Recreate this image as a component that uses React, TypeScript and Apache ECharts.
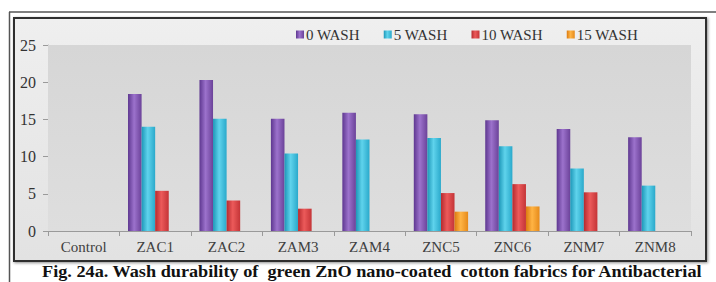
import React, { useEffect, useRef } from "react";
import * as echarts from "echarts";

const categories = ["Control", "ZAC1", "ZAC2", "ZAM3", "ZAM4", "ZNC5", "ZNC6", "ZNM7", "ZNM8"];
const seriesNames = ["0 WASH", "5 WASH", "10 WASH", "15 WASH"];
const wash0 = [0, 18.4, 20.3, 15.1, 15.9, 15.7, 14.9, 13.7, 12.6];
const wash5 = [0, 14.0, 15.1, 10.4, 12.3, 12.5, 11.4, 8.4, 6.1];
const wash10 = [0, 5.4, 4.1, 3.0, 0, 5.1, 6.3, 5.2, 0];
const wash15 = [0, 0, 0, 0, 0, 2.6, 3.3, 0, 0];
const caption = "Fig. 24a. Wash durability of  green ZnO nano-coated  cotton fabrics for Antibacterial";

const palettes = [
  ["#5e3790", "#9c72cc", "#6b4299"],
  ["#1d97b8", "#5fd3ec", "#2aa9cb"],
  ["#b52a2e", "#ec5a5a", "#c43437"],
  ["#db7a10", "#ffb444", "#e68a1a"],
];

function barGradient(p: string[]) {
  return new echarts.graphic.LinearGradient(0, 0, 1, 0, [
    { offset: 0, color: p[0] },
    { offset: 0.45, color: p[1] },
    { offset: 1, color: p[2] },
  ]);
}

export default function App() {
  const ref = useRef<HTMLDivElement>(null);
  useEffect(() => {
    document.body.style.margin = "0";
    const chart = echarts.init(ref.current!, undefined, { renderer: "svg" });
    const serif = "Liberation Serif";
    const data = [wash0, wash5, wash10, wash15];
    chart.setOption({
      animation: false,
      textStyle: { fontFamily: serif },
      grid: {
        left: 48,
        right: 716 - 691,
        top: 45,
        bottom: 282 - 231,
        show: true,
        borderWidth: 0,
        backgroundColor: new echarts.graphic.LinearGradient(0, 0, 0, 1, [
          { offset: 0, color: "#d6d6d6" },
          { offset: 1, color: "#dedede" },
        ]),
        z: 1,
      },
      legend: {
        left: 291,
        top: 22,
        itemWidth: 8,
        itemHeight: 8,
        itemGap: 24,
        icon: "rect",
        textStyle: { fontFamily: serif, fontSize: 15, color: "#333", padding: [0, 0, 0, -3] },
        data: seriesNames,
      },
      xAxis: {
        type: "category",
        data: categories,
        axisLine: { show: true, lineStyle: { color: "#9a9a9a", width: 1 } },
        axisTick: { show: true, length: 5, lineStyle: { color: "#9a9a9a" } },
        axisLabel: { fontFamily: serif, fontSize: 15, color: "#404040", margin: 8 },
      },
      yAxis: {
        type: "value",
        min: 0,
        max: 25,
        interval: 5,
        axisLine: { show: true, lineStyle: { color: "#b5b5b5" } },
        axisTick: { show: true, length: 5, lineStyle: { color: "#9a9a9a" } },
        splitLine: { lineStyle: { color: "#b3b3b3", width: 1 } },
        axisLabel: { fontFamily: serif, fontSize: 16, color: "#333", margin: 12 },
      },
      series: data.map((d, i) => ({
        name: seriesNames[i],
        type: "bar",
        data: d.map((v) => (v === 0 ? null : v)),
        barGap: "0%",
        barCategoryGap: "24%",
        itemStyle: { color: barGradient(palettes[i]) },
      })),
      graphic: [
        {
          type: "line",
          shape: { x1: 9, y1: 12, x2: 716, y2: 12 },
          style: { stroke: "#555", lineWidth: 1.5 },
          z: -10,
        },
        {
          type: "line",
          shape: { x1: 9.5, y1: 12, x2: 9.5, y2: 282 },
          style: { stroke: "#555", lineWidth: 1.5 },
          z: -10,
        },
        {
          type: "rect",
          shape: { x: 14, y: 18, width: 692, height: 243 },
          style: {
            fill: new echarts.graphic.LinearGradient(0, 0, 0, 1, [
              { offset: 0, color: "#efefef" },
              { offset: 1, color: "#e2e2e2" },
            ]),
            stroke: "#2e2e2e",
            lineWidth: 2,
            shadowBlur: 3,
            shadowColor: "rgba(0,0,0,0.45)",
            shadowOffsetX: 1,
            shadowOffsetY: 1,
          },
          z: -5,
        },
        {
          type: "text",
          x: 42,
          y: 272,
          scaleX: 1.14,
          style: {
            text: caption,
            fontFamily: serif,
            fontWeight: "bold",
            fontSize: 16,
            fill: "#111",
            verticalAlign: "middle",
          },
        },
      ],
    });
    return () => chart.dispose();
  }, []);
  return <div ref={ref} style={{ width: 716, height: 282, position: "absolute", left: 0, top: 0 }} />;
}
